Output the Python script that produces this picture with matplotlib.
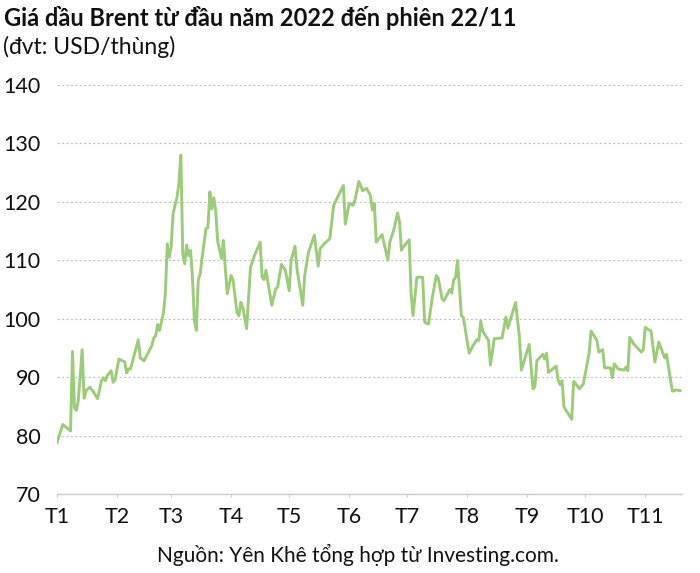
import matplotlib
matplotlib.use("Agg")
import matplotlib.pyplot as plt
import pandas as pd

plt.rcParams['font.family'] = ['Lato', 'DejaVu Sans']

dates = [
    "2022-01-01", "2022-01-04", "2022-01-08", "2022-01-09", "2022-01-10", "2022-01-11",
    "2022-01-12", "2022-01-14", "2022-01-15", "2022-01-16", "2022-01-18", "2022-01-20",
    "2022-01-22", "2022-01-24", "2022-01-25", "2022-01-26", "2022-01-27", "2022-01-29",
    "2022-01-30", "2022-01-31", "2022-02-02", "2022-02-05", "2022-02-06", "2022-02-07",
    "2022-02-08", "2022-02-12", "2022-02-13", "2022-02-15", "2022-02-19", "2022-02-20",
    "2022-02-21", "2022-02-22", "2022-02-23", "2022-02-25", "2022-02-26", "2022-02-27",
    "2022-02-28", "2022-03-01", "2022-03-02", "2022-03-04", "2022-03-05", "2022-03-06",
    "2022-03-07", "2022-03-08", "2022-03-09", "2022-03-10", "2022-03-11", "2022-03-12",
    "2022-03-13", "2022-03-14", "2022-03-15", "2022-03-16", "2022-03-17", "2022-03-19",
    "2022-03-20", "2022-03-21", "2022-03-22", "2022-03-23", "2022-03-24", "2022-03-25",
    "2022-03-27", "2022-03-28", "2022-03-29", "2022-03-30", "2022-04-01", "2022-04-02",
    "2022-04-04", "2022-04-05", "2022-04-06", "2022-04-07", "2022-04-09", "2022-04-11",
    "2022-04-13", "2022-04-16", "2022-04-17", "2022-04-18", "2022-04-19", "2022-04-22",
    "2022-04-24", "2022-04-25", "2022-04-27", "2022-04-29", "2022-05-01", "2022-05-02",
    "2022-05-04", "2022-05-05", "2022-05-08", "2022-05-09", "2022-05-11", "2022-05-14",
    "2022-05-16", "2022-05-17", "2022-05-19", "2022-05-22", "2022-05-24", "2022-05-26",
    "2022-05-29", "2022-05-30", "2022-06-01", "2022-06-03", "2022-06-04", "2022-06-06",
    "2022-06-08", "2022-06-10", "2022-06-12", "2022-06-13", "2022-06-14", "2022-06-15",
    "2022-06-18", "2022-06-21", "2022-06-22", "2022-06-24", "2022-06-26", "2022-06-27",
    "2022-06-28", "2022-06-29", "2022-07-02", "2022-07-03", "2022-07-04", "2022-07-06",
    "2022-07-09", "2022-07-10", "2022-07-12", "2022-07-14", "2022-07-16", "2022-07-17",
    "2022-07-19", "2022-07-20", "2022-07-23", "2022-07-24", "2022-07-25", "2022-07-26",
    "2022-07-27", "2022-07-29", "2022-07-30", "2022-08-02", "2022-08-04", "2022-08-06",
    "2022-08-07", "2022-08-08", "2022-08-09", "2022-08-11", "2022-08-12", "2022-08-13",
    "2022-08-15", "2022-08-19", "2022-08-21", "2022-08-22", "2022-08-26", "2022-08-28",
    "2022-08-29", "2022-08-31", "2022-09-02", "2022-09-04", "2022-09-05", "2022-09-06",
    "2022-09-09", "2022-09-10", "2022-09-11", "2022-09-12", "2022-09-16", "2022-09-17",
    "2022-09-18", "2022-09-19", "2022-09-20", "2022-09-24", "2022-09-25", "2022-09-28",
    "2022-09-30", "2022-10-02", "2022-10-03", "2022-10-04", "2022-10-07", "2022-10-08",
    "2022-10-10", "2022-10-11", "2022-10-14", "2022-10-15", "2022-10-16", "2022-10-18",
    "2022-10-21", "2022-10-22", "2022-10-23", "2022-10-24", "2022-10-26", "2022-10-30",
    "2022-10-31", "2022-11-01", "2022-11-04", "2022-11-06", "2022-11-08", "2022-11-11",
    "2022-11-12", "2022-11-15", "2022-11-17", "2022-11-19",
]

prices = [
    78.8, 81.9, 80.8, 94.4, 84.8, 84.3,
    86.0, 94.7, 86.4, 87.7, 88.3, 87.4,
    86.3, 89.4, 89.9, 89.4, 90.3, 91.1,
    89.1, 89.5, 93.1, 92.6, 90.7, 91.4,
    91.4, 96.4, 93.3, 92.8, 95.4, 96.7,
    97.1, 99.0, 98.0, 101.0, 104.3, 112.8,
    110.5, 112.3, 118.0, 120.8, 123.1, 128.0,
    111.1, 109.4, 112.6, 110.8, 111.7, 107.1,
    99.7, 98.0, 106.6, 107.7, 110.5, 115.4,
    115.6, 121.7, 118.8, 120.7, 118.6, 113.4,
    110.3, 113.4, 108.6, 104.3, 107.4, 106.6,
    101.1, 100.5, 102.8, 102.0, 98.3, 108.8,
    110.8, 113.1, 107.1, 106.7, 108.3, 102.3,
    105.1, 105.4, 109.3, 108.3, 104.8, 110.0,
    112.4, 108.6, 102.3, 107.4, 111.4, 114.3,
    109.0, 112.0, 112.8, 113.7, 119.4, 120.8,
    122.8, 116.2, 119.7, 119.4, 120.3, 123.5,
    121.9, 122.3, 121.1, 118.6, 119.7, 113.1,
    114.4, 110.0, 113.1, 115.1, 118.1, 116.6,
    111.7, 112.3, 113.5, 104.3, 100.5, 107.1,
    107.1, 99.4, 99.1, 103.7, 107.4, 107.0,
    103.4, 103.1, 105.0, 104.4, 106.6, 107.1,
    110.0, 100.5, 100.2, 94.1, 95.4, 96.4,
    96.3, 99.6, 97.9, 96.8, 96.3, 92.1,
    96.6, 96.7, 100.3, 98.4, 102.8, 96.8,
    91.2, 93.4, 95.6, 88.0, 88.4, 92.8,
    93.9, 93.1, 94.1, 90.8, 91.9, 89.5,
    88.7, 89.4, 84.9, 82.8, 89.3, 88.0,
    88.8, 92.3, 94.1, 97.9, 96.3, 94.3,
    94.7, 91.6, 91.6, 89.9, 92.3, 91.4,
    91.2, 91.7, 91.1, 96.8, 95.7, 94.3,
    94.7, 98.5, 97.9, 92.6, 96.0, 93.3,
    93.9, 87.6, 87.8, 87.7,
]

month_labels = ["T1", "T2", "T3", "T4", "T5", "T6", "T7", "T8", "T9", "T10", "T11"]
month_starts = ["2022-%02d-01" % m for m in range(1, 12)]
y_ticks = [70, 80, 90, 100, 110, 120, 130, 140]

title = "Giá dầu Brent từ đầu năm 2022 đến phiên 22/11"
subtitle = "(đvt: USD/thùng)"
source = "Nguồn: Yên Khê tổng hợp từ Investing.com."

x = pd.to_datetime(dates)
fig = plt.figure(figsize=(7.0, 5.73), dpi=100)
ax = fig.add_axes([57/700, 1-494/573, (682-57)/700, (494-85)/573])

ax.plot(x, prices, color="#9ccb79", linewidth=2.1, solid_joinstyle="round")

ax.set_ylim(70, 140)
ax.set_yticks(y_ticks)
ax.set_xlim(pd.Timestamp("2022-01-01"), pd.Timestamp("2022-11-20"))
ax.set_xticks(pd.to_datetime(month_starts))
ax.set_xticklabels(month_labels)

for s in ["top", "right", "left"]:
    ax.spines[s].set_visible(False)
ax.spines["bottom"].set_color("#cccccc")
ax.spines["bottom"].set_linewidth(1.0)

ax.yaxis.grid(True, color="#c4c4c4", linestyle=(0, (2, 2)), linewidth=0.8)
ax.set_axisbelow(True)
ax.tick_params(axis="y", length=0, labelsize=15.5, colors="#111111", pad=12)
ax.tick_params(axis="x", length=2.5, color="#cccccc", labelsize=15.5, colors="#111111", pad=7)

fig.text(4/700, 1-18/573, title, fontsize=17, fontweight="bold", color="#111111", va="center", ha="left")
fig.text(3/700, 1-47/573, subtitle, fontsize=16.5, color="#111111", va="center", ha="left")
fig.text(358/700, 1-555/573, source, fontsize=15, color="#111111", va="center", ha="center")

fig.savefig("out.png", dpi=100)
